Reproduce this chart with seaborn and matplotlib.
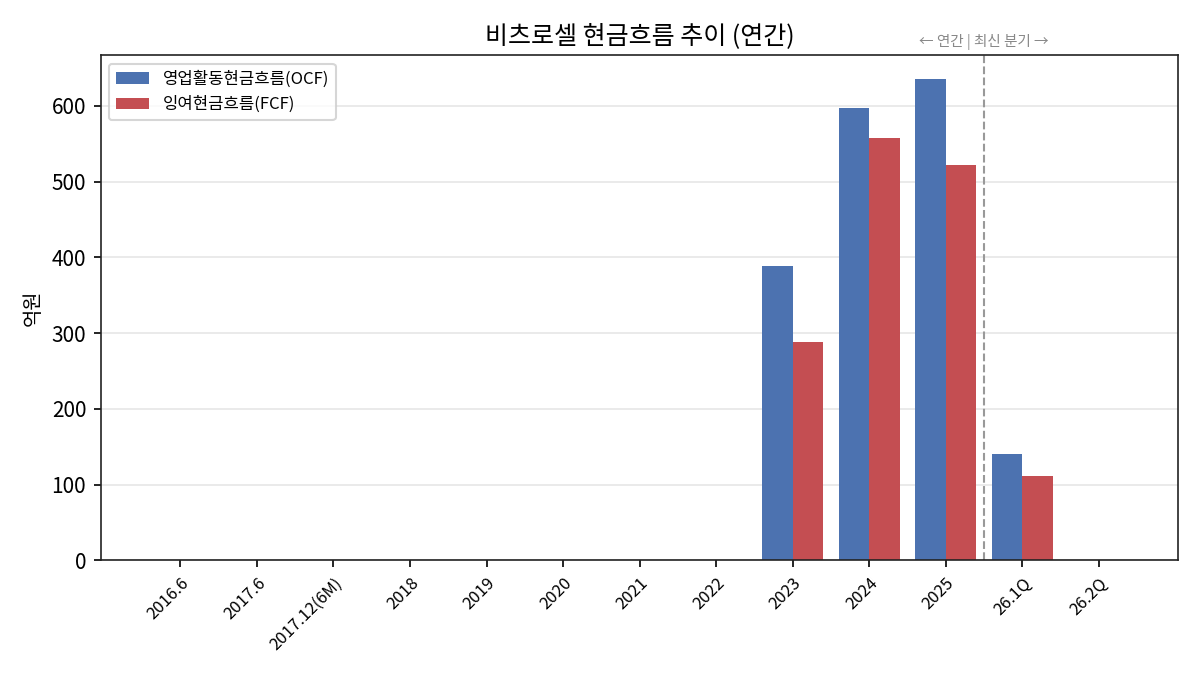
import matplotlib
matplotlib.use("Agg")
import matplotlib.pyplot as plt
import seaborn as sns
import pandas as pd

periods = ["2016.6", "2017.6", "2017.12(6M)", "2018", "2019", "2020", "2021",
           "2022", "2023", "2024", "2025", "26.1Q", "26.2Q"]
ocf = [0, 0, 0, 0, 0, 0, 0, 0, 388, 597, 635, 140, 0]
fcf = [0, 0, 0, 0, 0, 0, 0, 0, 288, 558, 522, 111, 0]
ocf_label = "영업활동현금흐름(OCF)"
fcf_label = "잉여현금흐름(FCF)"

df = pd.DataFrame({
    "period": periods * 2,
    "value": ocf + fcf,
    "kind": [ocf_label] * len(periods) + [fcf_label] * len(periods),
})

plt.rcParams['font.family'] = ['Noto Sans CJK KR', 'DejaVu Sans']
plt.rcParams['axes.unicode_minus'] = False

fig, ax = plt.subplots(figsize=(8, 4.5), dpi=150)
sns.barplot(data=df, x="period", y="value", hue="kind", order=periods,
            palette={ocf_label: "#4C72B0", fcf_label: "#C44E52"},
            saturation=1, width=0.8, ax=ax)

ax.set_xlim(-1.04, 13.04)
ax.grid(axis="y", color="#e6e6e6", linewidth=0.8)
ax.set_axisbelow(True)
ax.set_xlabel("")
ax.set_ylabel("억원", fontsize=9.5)
ax.set_title("비츠로셀 현금흐름 추이 (연간)", fontsize=12)
ax.tick_params(axis="y", labelsize=10)
plt.setp(ax.get_xticklabels(), rotation=45, ha="right", rotation_mode="anchor", fontsize=8)

split = periods.index("2025") + 0.5
ax.axvline(split, color="#999999", linestyle="--", linewidth=1.0)
ax.text(split, 1.01, "← 연간 | 최신 분기 →", transform=ax.get_xaxis_transform(),
        ha="center", va="bottom", fontsize=7, color="#888888")

ax.legend(loc="upper left", fontsize=8, title=None)
for s in ax.spines.values():
    s.set_color("#222222")

fig.subplots_adjust(left=0.084, right=0.982, top=0.918, bottom=0.17)
fig.savefig("out.png", dpi=150)
